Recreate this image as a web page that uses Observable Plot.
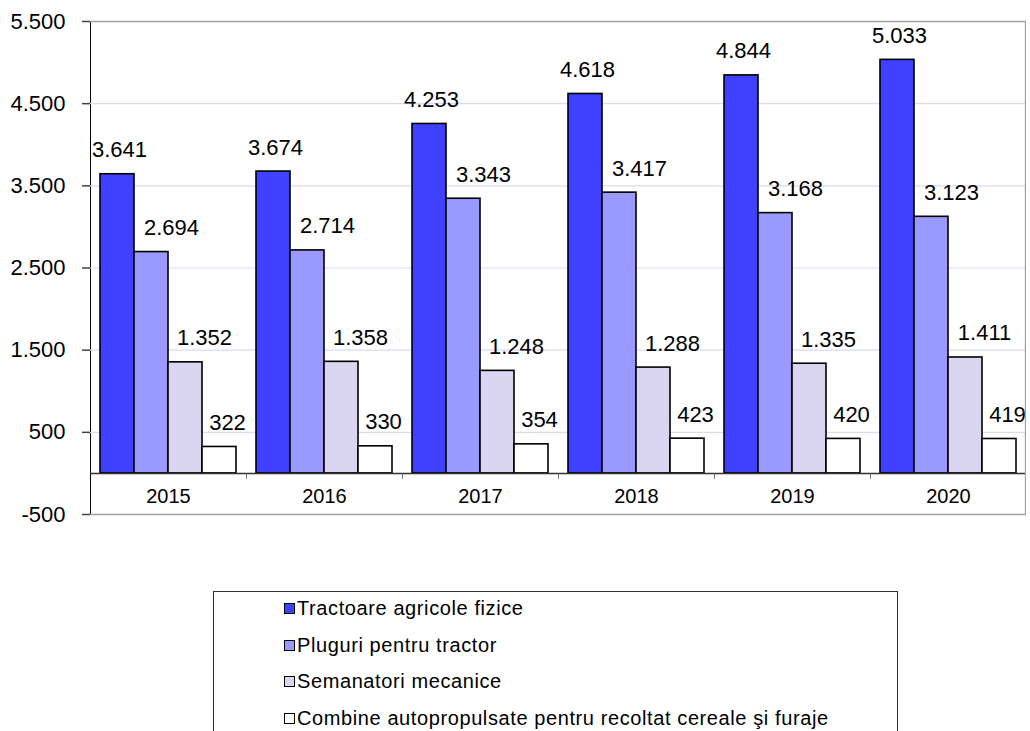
<!DOCTYPE html>
<html>
<head>
<meta charset="utf-8">
<script src="https://cdn.jsdelivr.net/npm/d3@7"></script>
<script src="https://cdn.jsdelivr.net/npm/@observablehq/plot@0.6"></script>
<style>
  html, body { margin: 0; padding: 0; background: #fff; overflow: hidden; }
  #wrap { position: relative; width: 1030px; height: 731px; font-family: "Liberation Sans", Arial, sans-serif; }
  #legend { position: absolute; left: 213px; top: 591px; width: 685px; height: 200px;
            border: 1px solid #333; box-sizing: border-box; font-size: 20px; color: #000; letter-spacing: 0.6px; }
  .item { position: absolute; left: 70px; display: flex; align-items: center; white-space: nowrap; line-height: 23px; }
  .sw { width: 9px; height: 9px; border: 1.5px solid #000; margin-right: 2px; }
  svg [aria-label="y-axis"] path, svg [aria-label="y-axis tick"] path { stroke: #404040; stroke-width: 1.5; }
</style>
</head>
<body>
<div id="wrap">
  <div id="chart"></div>
  <div id="legend"></div>
</div>
<script>
const years = ["2015", "2016", "2017", "2018", "2019", "2020"];
const series = [
  "Tractoare agricole fizice",
  "Pluguri pentru tractor",
  "Semanatori mecanice",
  "Combine autopropulsate pentru recoltat cereale şi furaje"
];
const tractoare  = [3641, 3674, 4253, 4618, 4844, 5033];
const pluguri    = [2694, 2714, 3343, 3417, 3168, 3123];
const semanatori = [1352, 1358, 1248, 1288, 1335, 1411];
const combine    = [322, 330, 354, 423, 420, 419];
const colors = ["#4040ff", "#9999ff", "#dad5f0", "#ffffff"];
const yTicks = [-500, 500, 1500, 2500, 3500, 4500, 5500];
const gridTicks = [500, 1500, 2500, 3500, 4500];

const values = [tractoare, pluguri, semanatori, combine];
const rows = years.flatMap((yr, i) => series.map((s, k) => ({year: yr, series: s, value: values[k][i]})));

const fmt = d => String(d).replace(/\B(?=(\d{3})+(?!\d))/g, ".");

const W = 1030, ML = 89, MR = 3;
const fw = (W - ML - MR) / years.length;
const labelDx = [2, 20, 19, 8];

const marks = [
  Plot.ruleY(gridTicks, {stroke: "#d9d9f7", strokeWidth: 1.2}),
  Plot.ruleY([5500, -500], {stroke: "#a0a0a0", strokeWidth: 1.5}),
  Plot.barY(rows, {fx: "year", x: "series", y: "value", fill: "series", stroke: "#000", strokeWidth: 1.6}),
  Plot.ruleY([0], {stroke: "#333", strokeWidth: 1.5}),
  Plot.rect(years.slice(1), {fx: d => d, y1: 0, y2: -70, insetRight: fw - 1.2, fill: "#555"}),
  Plot.rect([years[years.length - 1]], {fx: d => d, y1: -500, y2: 5500, insetLeft: fw - 1.5, fill: "#a0a0a0"}),
  Plot.text(years, {fx: d => d, y: -280, text: d => d, fontSize: 20, lineAnchor: "middle", fill: "#000"}),
  ...series.map((s, k) => Plot.text(rows.filter(r => r.series === s), {
    fx: "year", x: "series", y: "value", text: d => fmt(d.value),
    dx: labelDx[k], dy: -17, lineAnchor: "bottom", fontSize: 22, fill: "#000"
  }))
];

const chart = Plot.plot({
  width: W, height: 560,
  marginLeft: ML, marginRight: MR, marginTop: 21, marginBottom: 46,
  style: {fontFamily: "'Liberation Sans', Arial, sans-serif", fontSize: "22px", color: "#000", background: "white", overflow: "visible"},
  fx: {domain: years, padding: 0, axis: null},
  x: {domain: series, paddingInner: 0, paddingOuter: 0.233, axis: null},
  y: {domain: [-500, 5500], ticks: yTicks, tickFormat: fmt, tickSize: 8, tickPadding: 17, line: true, label: null},
  color: {domain: series, range: colors},
  marks
});
document.getElementById("chart").appendChild(chart);

const legend = document.getElementById("legend");
series.forEach((s, k) => {
  const it = document.createElement("div");
  it.className = "item";
  it.style.top = (5 + k * 36.5) + "px";
  const sw = document.createElement("span");
  sw.className = "sw";
  sw.style.background = colors[k];
  const t = document.createElement("span");
  t.textContent = s;
  it.appendChild(sw); it.appendChild(t);
  legend.appendChild(it);
});
</script>
</body>
</html>
